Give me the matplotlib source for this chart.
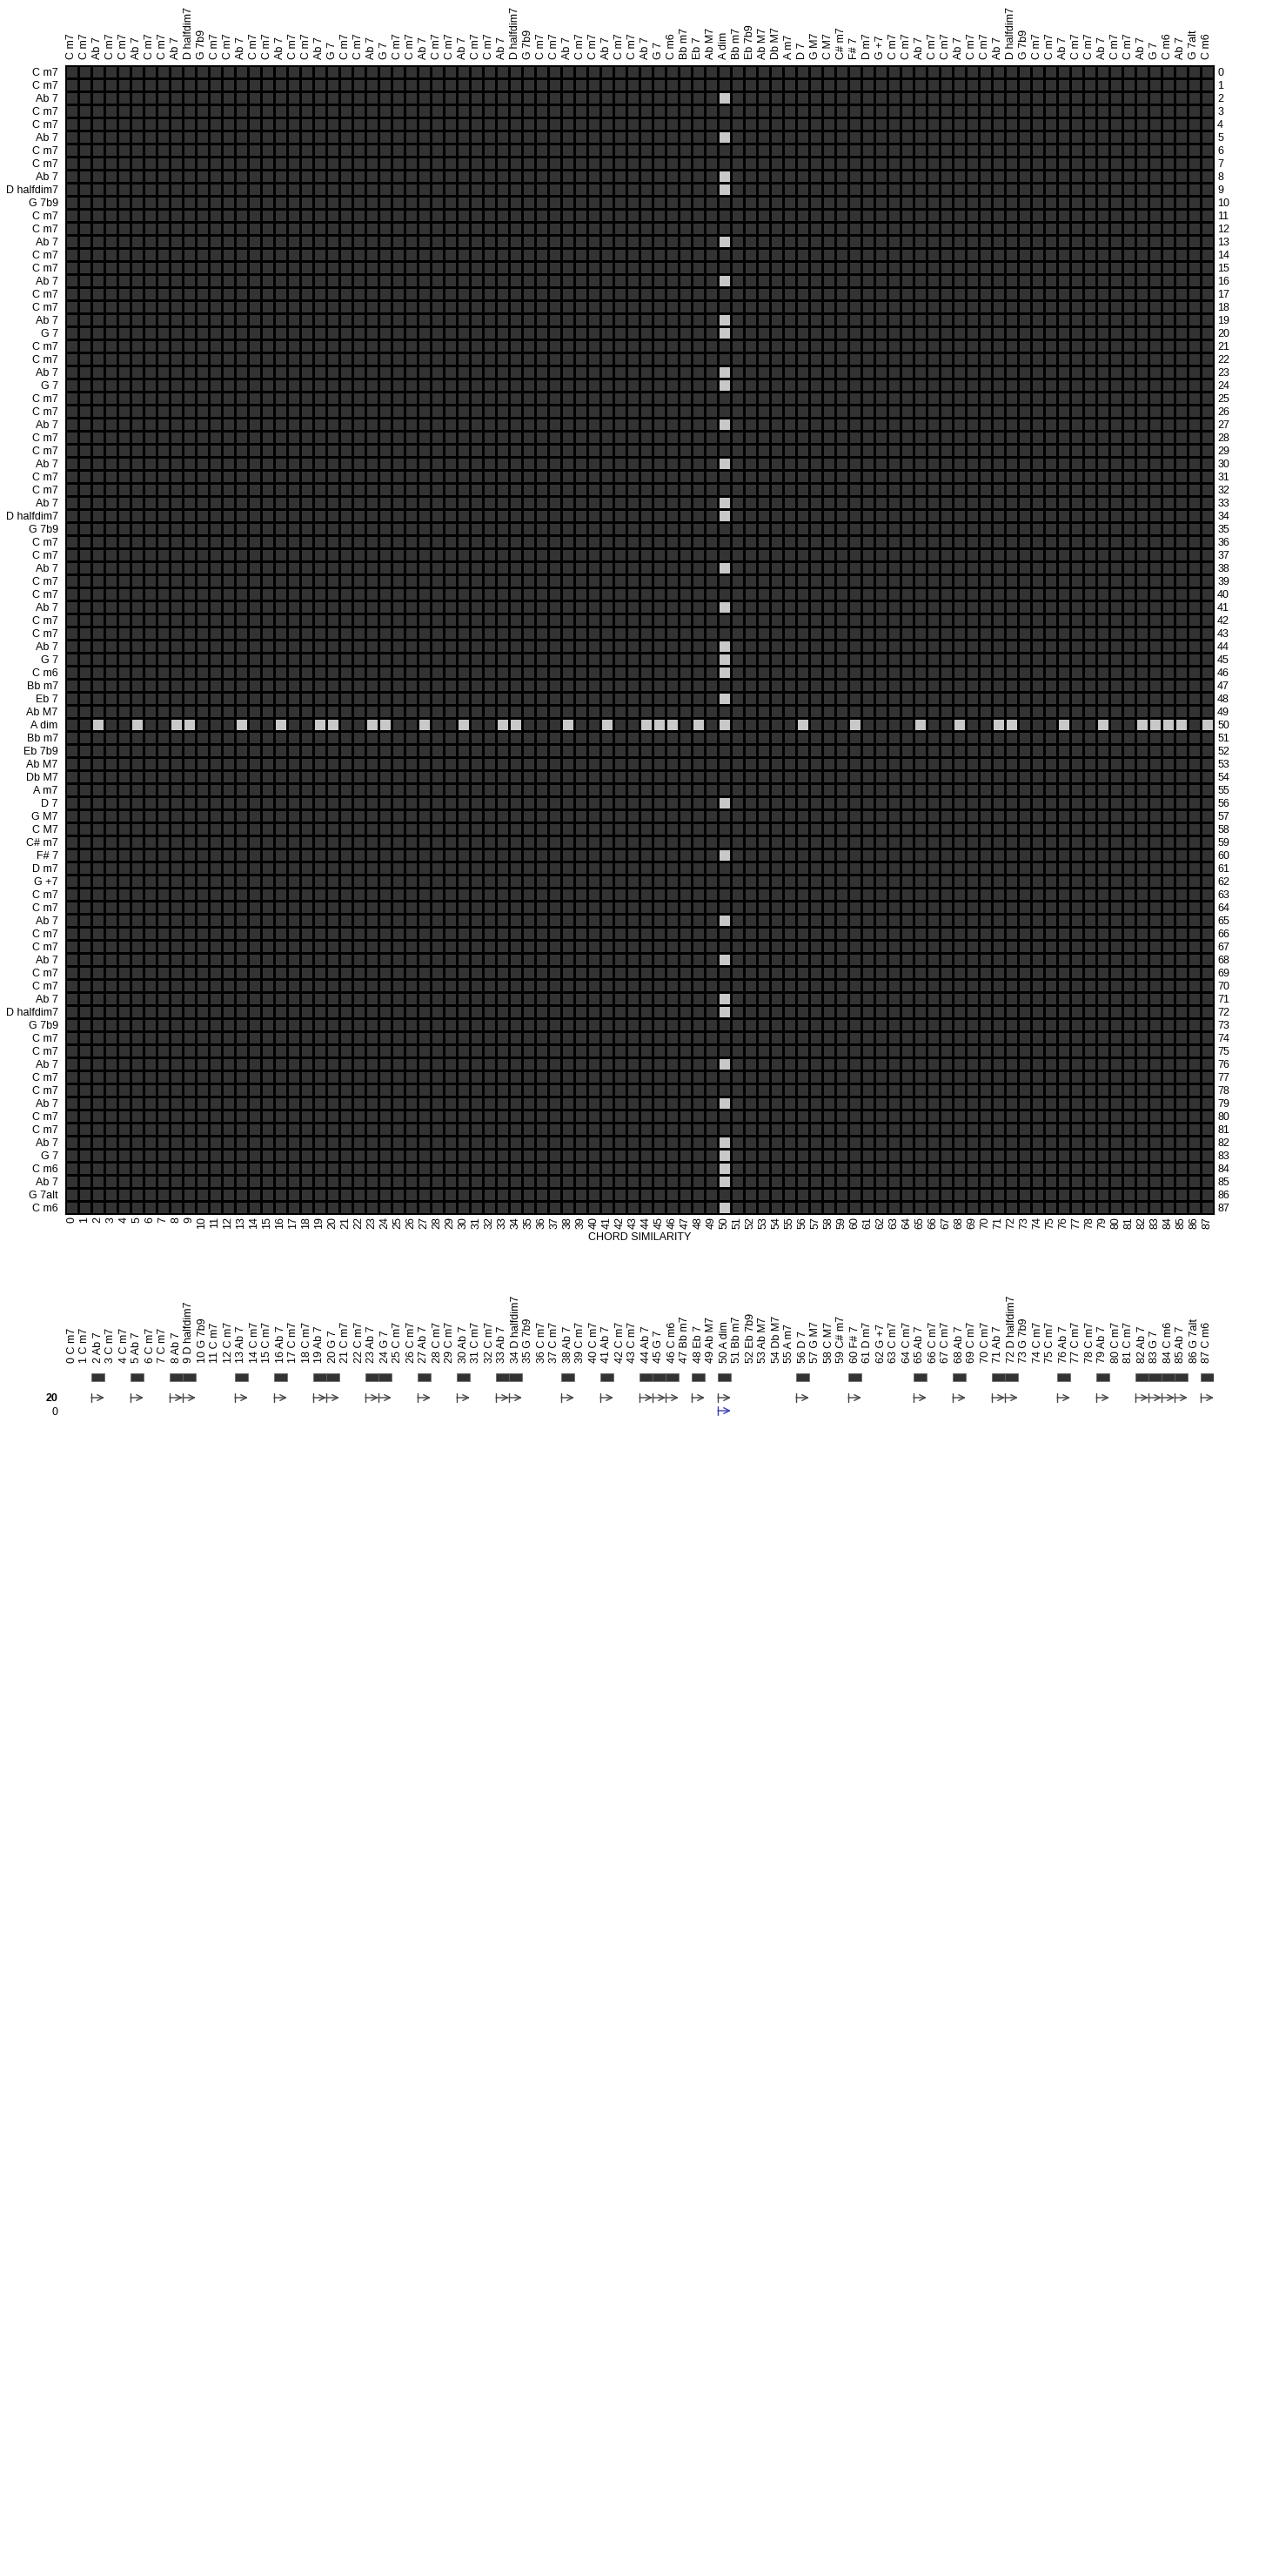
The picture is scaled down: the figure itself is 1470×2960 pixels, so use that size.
import matplotlib
matplotlib.use('Agg')
import numpy as np
import matplotlib.pyplot as plt
from matplotlib import font_manager
from matplotlib.colors import ListedColormap

# chord progression (88 chords)
chords = ['C m7', 'C m7', 'Ab 7', 'C m7', 'C m7', 'Ab 7', 'C m7', 'C m7', 'Ab 7', 'D halfdim7',
          'G 7b9', 'C m7', 'C m7', 'Ab 7', 'C m7', 'C m7', 'Ab 7', 'C m7', 'C m7', 'Ab 7',
          'G 7', 'C m7', 'C m7', 'Ab 7', 'G 7', 'C m7', 'C m7', 'Ab 7', 'C m7', 'C m7',
          'Ab 7', 'C m7', 'C m7', 'Ab 7', 'D halfdim7', 'G 7b9', 'C m7', 'C m7', 'Ab 7', 'C m7',
          'C m7', 'Ab 7', 'C m7', 'C m7', 'Ab 7', 'G 7', 'C m6', 'Bb m7', 'Eb 7', 'Ab M7',
          'A dim', 'Bb m7', 'Eb 7b9', 'Ab M7', 'Db M7', 'A m7', 'D 7', 'G M7', 'C M7', 'C# m7',
          'F# 7', 'D m7', 'G +7', 'C m7', 'C m7', 'Ab 7', 'C m7', 'C m7', 'Ab 7', 'C m7',
          'C m7', 'Ab 7', 'D halfdim7', 'G 7b9', 'C m7', 'C m7', 'Ab 7', 'C m7', 'C m7', 'Ab 7',
          'C m7', 'C m7', 'Ab 7', 'G 7', 'C m6', 'Ab 7', 'G 7alt', 'C m6']

# the selected chord and the positions it is similar to
selected = 50
matches = [2, 5, 8, 9, 13, 16, 19, 20, 23, 24, 27, 30, 33, 34, 38, 41, 44, 45, 46, 48,
           50, 56, 60, 65, 68, 71, 72, 76, 79, 82, 83, 84, 85, 87]
arrow_rows = ['20', '0']

n = len(chords)
sim = np.zeros((n, n))
sim[selected, matches] = 1
sim[matches, selected] = 1

available = {f.name for f in font_manager.fontManager.ttflist}
narrow = 'Liberation Sans Narrow' if 'Liberation Sans Narrow' in available else 'Liberation Sans'
plt.rcParams['font.family'] = ['Liberation Sans', 'DejaVu Sans']
plt.rcParams['font.size'] = 9

W, H = 1470, 2960
fig = plt.figure(figsize=(W / 100, H / 100), dpi=100)

# heatmap
ax = fig.add_axes([75 / W, 1 - 1395 / H, 1320 / W, 1320 / H])
edges = np.arange(n + 1)
ax.pcolormesh(edges, edges, sim, cmap=ListedColormap(['#333333', '#c8c8c8']),
              edgecolors='black', linewidth=0.8, vmin=0, vmax=1)
ax.set_xlim(0, n)
ax.set_ylim(n, 0)
centers = np.arange(n) + 0.5
ax.set_xticks(centers, labels=[str(i) for i in range(n)], rotation=90, fontfamily=narrow)
ax.set_yticks(centers, labels=chords)
ax.tick_params(length=0, pad=2)
ax.tick_params(axis='y', pad=6)

top = ax.secondary_xaxis('top')
top.set_xticks(centers, labels=chords, rotation=90, fontfamily=narrow)
top.tick_params(length=0, pad=5)
right = ax.secondary_yaxis('right')
right.set_yticks(centers, labels=[str(i) for i in range(n)])
right.tick_params(length=0, pad=3)

fig.text(735 / W, 1 - 1422 / H, 'CHORD SIMILARITY', ha='center', va='center', fontsize=9)

# match strip
ax2 = fig.add_axes([75 / W, 1 - 1630 / H, 1320 / W, 60 / H])
ax2.set_xlim(0, n)
ax2.set_ylim(4, 0)
ax2.bar(matches, 0.6, bottom=0.53, width=1, align='edge', color='#333333',
        edgecolor='#666666', linewidth=0.5)
style = ']->,widthA=0.3,lengthA=0'
for i in matches:
    ax2.annotate('', xy=(i + 1, 2.4), xytext=(i, 2.4),
                 arrowprops=dict(arrowstyle=style, color='#444444', lw=1,
                                 shrinkA=0, shrinkB=0, mutation_scale=12))
ax2.annotate('', xy=(selected + 1, 3.4), xytext=(selected, 3.4),
             arrowprops=dict(arrowstyle=style, color='#3c3cb4', lw=1,
                             shrinkA=0, shrinkB=0, mutation_scale=12))
ax2.xaxis.tick_top()
ax2.set_xticks(centers, labels=[f'{i} {c}' for i, c in enumerate(chords)],
               rotation=90, fontfamily=narrow)
ax2.set_yticks([2.4, 3.4], labels=arrow_rows)
ax2.get_yticklabels()[0].set_fontweight('bold')
ax2.tick_params(length=0, pad=3)
ax2.tick_params(axis='y', pad=6)
for s in ax2.spines.values():
    s.set_visible(False)

fig.savefig('out.png', dpi=100)
